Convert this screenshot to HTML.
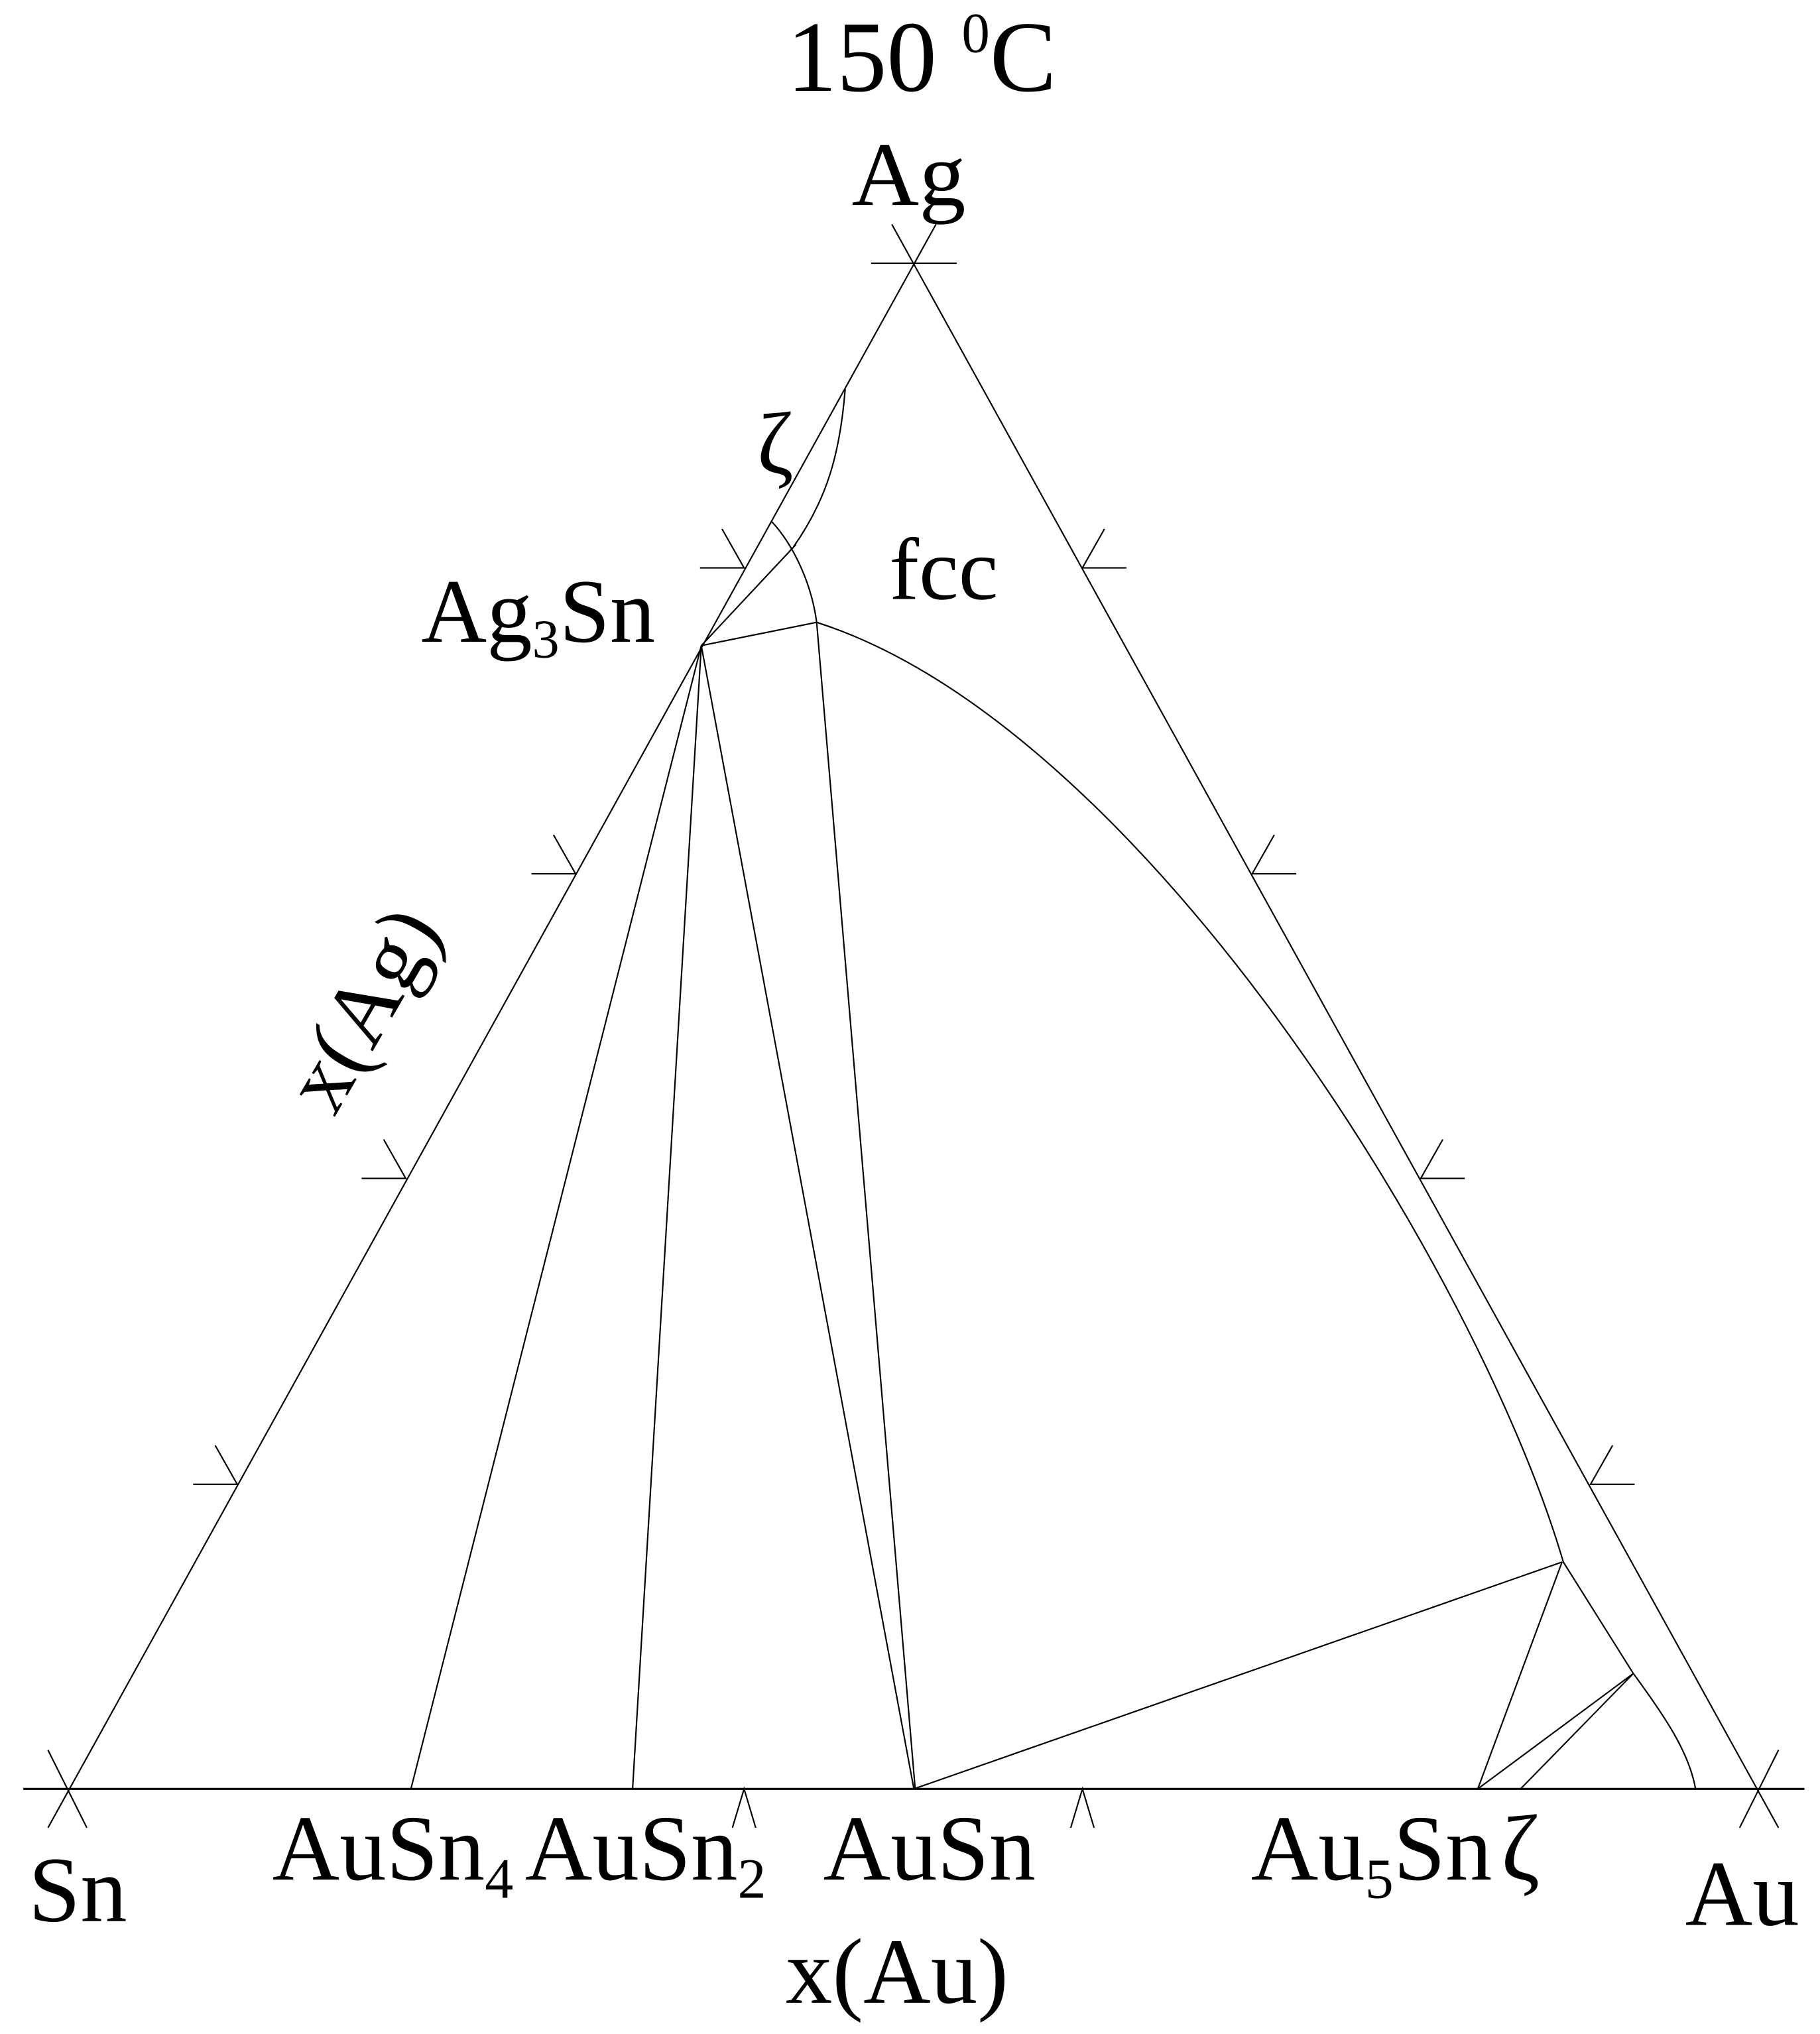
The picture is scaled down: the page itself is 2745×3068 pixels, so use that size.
<!DOCTYPE html>
<html><head><meta charset="utf-8"><style>
html,body{margin:0;padding:0;background:#fff;}
svg{display:block;}
text{font-family:"Liberation Serif",serif;fill:#000;}
</style></head><body>
<svg width="2745" height="3068" viewBox="0 0 1404 1569" xmlns="http://www.w3.org/2000/svg">
<g stroke="#000" stroke-width="1.1" fill="none">
<line x1="18" y1="1380" x2="1392" y2="1380" stroke-width="1.6"/>
<line x1="37" y1="1410" x2="722" y2="173"/>
<line x1="1372" y1="1410" x2="688" y2="173"/>
<line x1="67" y1="1410" x2="37" y2="1350"/>
<line x1="1342" y1="1410" x2="1372" y2="1350"/>
<line x1="672" y1="203" x2="738" y2="203"/>
<path d="M540 438H574L557 408M410 674H444L427 644M279 909H313L296 879M149 1145H183L166 1115"/>
<path d="M869 438H835L852 408M1000 674H966L983 644M1130 909H1096L1113 879M1261 1145H1227L1244 1115"/>
<path d="M565 1410L574 1380L583 1410M826 1410L835 1380L844 1410"/>
<path d="M652 300C648 350 638 385 612 422"/>
<line x1="541" y1="498" x2="614" y2="420"/>
<path d="M595 402C612 420 626 450 630 480"/>
<line x1="541" y1="498" x2="630" y2="480"/>
<path d="M630 480C880 560 1140 980 1206 1205L1260 1291C1285 1325 1303 1352 1308 1380"/>
<line x1="630" y1="480" x2="706" y2="1380"/>
<line x1="541" y1="498" x2="317" y2="1380"/>
<line x1="541" y1="498" x2="488" y2="1380"/>
<line x1="541" y1="498" x2="705" y2="1380"/>
<line x1="705" y1="1380" x2="1205" y2="1205"/>
<line x1="1205" y1="1205" x2="1140" y2="1380"/>
<line x1="1140" y1="1380" x2="1260" y2="1291"/>
<line x1="1173" y1="1380" x2="1260" y2="1291"/>
</g>
<text x="607" y="70" font-size="78" textLength="208" lengthAdjust="spacingAndGlyphs">150 <tspan font-size="44" dy="-30">0</tspan><tspan dy="30">C</tspan></text>
<text x="657" y="158" font-size="70" textLength="88" lengthAdjust="spacingAndGlyphs">Ag</text>
<text x="686" y="462" font-size="68" textLength="84" lengthAdjust="spacingAndGlyphs">fcc</text>
<text x="584" y="365" font-size="68">ζ</text>
<text x="325" y="495" font-size="70">Ag<tspan font-size="42" dy="12">3</tspan><tspan dy="-12">Sn</tspan></text>
<text x="0" y="0" font-size="70" transform="translate(258,862) rotate(-60)">x(Ag)</text>
<text x="210" y="1450" font-size="72">AuSn<tspan font-size="44" dy="14">4</tspan></text>
<text x="405" y="1450" font-size="72">AuSn<tspan font-size="44" dy="14">2</tspan></text>
<text x="635" y="1450" font-size="72">AuSn</text>
<text x="965" y="1450" font-size="72">Au<tspan font-size="44" dy="14">5</tspan><tspan dy="-14">Sn</tspan></text>
<text x="1158" y="1450" font-size="72">ζ</text>
<text x="22" y="1482" font-size="72">Sn</text>
<text x="1300" y="1485" font-size="72">Au</text>
<text x="692" y="1545" font-size="72" text-anchor="middle">x(Au)</text>
</svg>
</body></html>
